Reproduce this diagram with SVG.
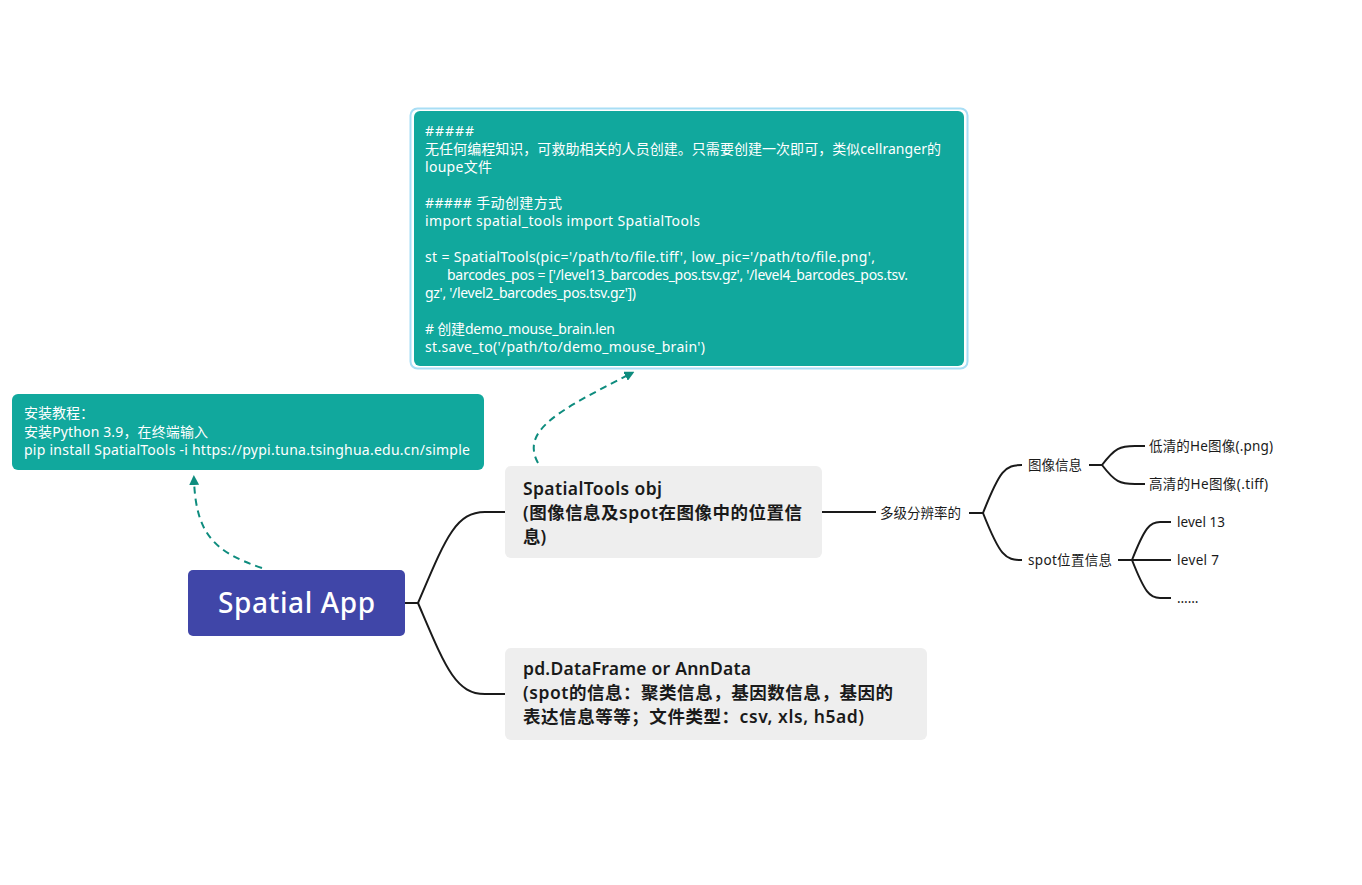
<svg xmlns="http://www.w3.org/2000/svg" width="1362" height="885" viewBox="0 0 1362 885">
<defs>
<style>
text{font-family:"Noto Sans","Noto Sans CJK SC",sans-serif;}
.w{fill:#ffffff;font-size:14px;}
.b{fill:#1a1a1a;font-size:17.5px;font-weight:600;}
.s{fill:#1a1a1a;font-size:13.5px;}
.link{fill:none;stroke:#1a1a1a;stroke-width:2;}
.dash{fill:none;stroke:#0e8c7e;stroke-width:2;stroke-dasharray:7 5;}
</style>
<marker id="ah" viewBox="0 0 10 10" refX="5" refY="5" markerWidth="5" markerHeight="5" orient="auto">
<path d="M0,0 L10,5 L0,10 z" fill="#0e8c7e"/>
</marker>
</defs>
<rect width="1362" height="885" fill="#ffffff"/>
<g id="connectors">
<path class="link" d="M405,603 H418 C445,540 455,512 485,512 H505"/>
<path class="link" d="M418,603 C445,666 455,694 485,694 H505"/>
<path class="link" d="M822,512 H876"/>
<path class="link" d="M969,513 H983 C1000,470 1005,465 1022,465"/>
<path class="link" d="M983,513 C1000,556 1005,560 1022,560"/>
<path class="link" d="M1089,465 H1102 C1115,448 1120,446 1135,446 H1145"/>
<path class="link" d="M1102,465 C1115,482 1120,484 1135,484 H1145"/>
<path class="link" d="M1118,560 H1132 C1145,527 1150,522 1160,522 H1171"/>
<path class="link" d="M1132,560 H1171"/>
<path class="link" d="M1132,560 C1145,593 1150,598 1160,598 H1171"/>
<path class="dash" d="M262,568 C215,552 196,535 194,480" marker-end="url(#ah)"/>
<path class="dash" d="M538,463 C520,430 560,410 630,374" marker-end="url(#ah)"/>
</g>
<g id="note-top">
<rect x="410.5" y="108.5" width="557" height="260" rx="7" fill="none" stroke="#a8def5" stroke-width="2"/>
<rect x="414" y="111" width="550" height="255" rx="6" fill="#11a89d"/>
<text class="w" x="425" y="136" textLength="49" lengthAdjust="spacing">#####</text>
<text class="w" x="425" y="154" textLength="516" lengthAdjust="spacing">无任何编程知识，可救助相关的人员创建。只需要创建一次即可，类似cellranger的</text>
<text class="w" x="425" y="172" textLength="67" lengthAdjust="spacing">loupe文件</text>
<text class="w" x="425" y="208" textLength="137" lengthAdjust="spacing">##### 手动创建方式</text>
<text class="w" x="425" y="226" textLength="275" lengthAdjust="spacing">import spatial_tools import SpatialTools</text>
<text class="w" x="425" y="262" textLength="450" lengthAdjust="spacing">st = SpatialTools(pic='/path/to/file.tiff', low_pic='/path/to/file.png',</text>
<text class="w" x="447" y="280" textLength="461" lengthAdjust="spacing">barcodes_pos = ['/level13_barcodes_pos.tsv.gz', '/level4_barcodes_pos.tsv.</text>
<text class="w" x="425" y="298" textLength="211" lengthAdjust="spacing">gz', '/level2_barcodes_pos.tsv.gz'])</text>
<text class="w" x="425" y="334" textLength="190" lengthAdjust="spacing"># 创建demo_mouse_brain.len</text>
<text class="w" x="425" y="352" textLength="280" lengthAdjust="spacing">st.save_to('/path/to/demo_mouse_brain')</text>
</g>
<g id="note-install">
<rect x="12" y="394" width="472" height="76" rx="6" fill="#11a89d"/>
<text class="w" x="24" y="418">安装教程：</text>
<text class="w" x="24" y="437" textLength="184" lengthAdjust="spacing">安装Python 3.9，在终端输入</text>
<text class="w" x="24" y="455" textLength="446" lengthAdjust="spacing">pip install SpatialTools -i https://pypi.tuna.tsinghua.edu.cn/simple</text>
</g>
<g id="root">
<rect x="188" y="570" width="217" height="66" rx="5" fill="#4046a8"/>
<text x="218" y="613" fill="#ffffff" font-size="28" font-weight="500" textLength="157" lengthAdjust="spacing">Spatial App</text>
</g>
<g id="spatialtools">
<rect x="505" y="466" width="317" height="92" rx="6" fill="#eeeeee"/>
<text class="b" x="523" y="495" textLength="139" lengthAdjust="spacing">SpatialTools obj</text>
<text class="b" x="523" y="519" textLength="279" lengthAdjust="spacing">(图像信息及spot在图像中的位置信</text>
<text class="b" x="523" y="543">息)</text>
</g>
<g id="dataframe">
<rect x="505" y="648" width="422" height="92" rx="6" fill="#eeeeee"/>
<text class="b" x="523" y="675" textLength="228" lengthAdjust="spacing">pd.DataFrame or AnnData</text>
<text class="b" x="523" y="699" textLength="370" lengthAdjust="spacing">(spot的信息：聚类信息，基因数信息，基因的</text>
<text class="b" x="523" y="723" textLength="341" lengthAdjust="spacing">表达信息等等；文件类型：csv, xls, h5ad)</text>
</g>
<g id="multires"><text class="s" x="880" y="518">多级分辨率的</text></g>
<g id="imageinfo"><text class="s" x="1028" y="470">图像信息</text></g>
<g id="lowres"><text class="s" x="1149" y="451" textLength="124" lengthAdjust="spacing">低清的He图像(.png)</text></g>
<g id="highres"><text class="s" x="1149" y="489" textLength="119" lengthAdjust="spacing">高清的He图像(.tiff)</text></g>
<g id="spotinfo"><text class="s" x="1028" y="565" textLength="84" lengthAdjust="spacing">spot位置信息</text></g>
<g id="level13"><text class="s" x="1177" y="527" textLength="48" lengthAdjust="spacing">level 13</text></g>
<g id="level7"><text class="s" x="1177" y="565" textLength="42" lengthAdjust="spacing">level 7</text></g>
<g id="more"><text class="s" x="1177" y="603">……</text></g>
</svg>
